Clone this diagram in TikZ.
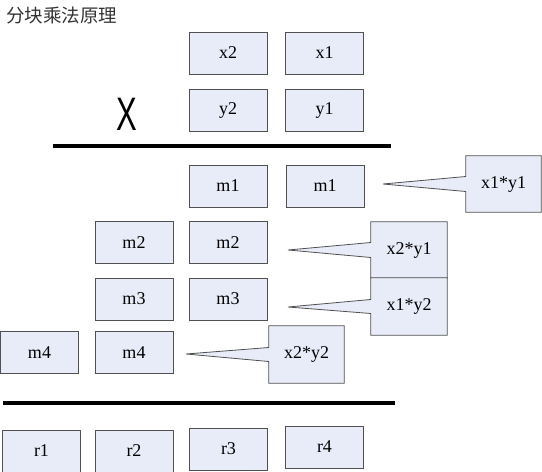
\documentclass[tikz,border=0pt]{standalone}
\usepackage{fontspec}
\setmainfont{Liberation Serif}
\newfontfamily\cjk{Noto Sans CJK SC}
\newfontfamily\arialf{Liberation Sans}
\definecolor{boxfill}{HTML}{E8ECF8}
\definecolor{boxline}{HTML}{505050}
\definecolor{titlegray}{HTML}{333333}
\tikzset{
  cell/.style={draw=boxline, fill=boxfill, line width=0.8pt, minimum width=78pt, minimum height=42pt, inner sep=0pt, font=\fontsize{18}{18}\selectfont},
  calloutbox/.style={inner sep=0pt, font=\fontsize{18}{18}\selectfont},
  calloutline/.style={draw=boxline, fill=boxfill, line width=0.8pt, line join=miter},
  rulebar/.style={line width=3.2pt, draw=black}
}
\newcommand{\mycallout}[7]{%
  % #1 name, #2 center, #3 width, #4 height, #5 tip, #6 base half-height, #7 text
  \node[calloutbox, minimum width=#3pt, minimum height=#4pt] (#1) at #2 {};
  \coordinate (#1tip) at #5;
  \draw[calloutline] (#1.north west) -- (#1.north east) -- (#1.south east) -- (#1.south west)
     -- ([yshift=-#6pt]#1.west) -- (#1tip) -- ([yshift=#6pt]#1.west) -- cycle;
  \node[calloutbox] at (#1.center) {#7};
}
\begin{document}
\begin{tikzpicture}[x=1pt,y=-1pt]
\useasboundingbox (0,0) rectangle (542,472);
\node[anchor=west, font=\cjk\fontsize{18.5}{18.5}\selectfont, text=titlegray, inner sep=0pt] (title) at (6,15) {分块乘法原理};

\node[cell] (x2) at (228,53) {x2};
\node[cell] (x1) at (324.5,53) {x1};
\node[cell] (y2) at (228,110) {y2};
\node[cell] (y1) at (324.5,110) {y1};
\node[font=\arialf\fontsize{47}{47}\selectfont, xscale=0.66, inner sep=0pt] (times) at (127,114) {X};

\coordinate (rule1l) at (53,146);
\coordinate (rule1r) at (391,146);
\draw[rulebar] (rule1l) -- (rule1r);

\node[cell] (m1a) at (228,186) {m1};
\node[cell] (m1b) at (325,186) {m1};
\node[cell] (m2a) at (134,242.5) {m2};
\node[cell] (m2b) at (228,242.5) {m2};
\node[cell] (m3a) at (134,299) {m3};
\node[cell] (m3b) at (228,299) {m3};
\node[cell] (m4a) at (39.5,352.5) {m4};
\node[cell] (m4b) at (134,352.5) {m4};

\mycallout{c11}{(503.5,184)}{75}{56}{(383,184)}{7.5}{x1*y1}
\mycallout{c21}{(409,250)}{76}{56}{(288,250)}{7.5}{x2*y1}
\mycallout{c12}{(409,306.5)}{76}{57}{(288,307)}{7}{x1*y2}
\mycallout{c22}{(306.5,354.5)}{75}{57}{(186,354)}{7}{x2*y2}

\coordinate (rule2l) at (3,403);
\coordinate (rule2r) at (395,403);
\draw[rulebar] (rule2l) -- (rule2r);

\node[cell] (r1) at (41.5,451) {r1};
\node[cell] (r2) at (134,451) {r2};
\node[cell] (r3) at (228.5,449) {r3};
\node[cell] (r4) at (324.5,447) {r4};
\end{tikzpicture}
\end{document}
